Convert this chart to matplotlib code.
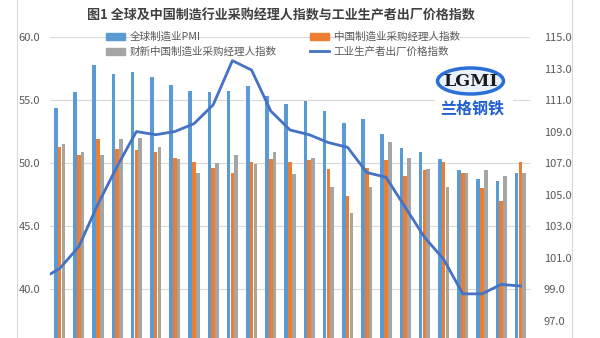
import matplotlib

matplotlib.use("Agg")
import matplotlib.pyplot as plt
import numpy as np
from matplotlib.lines import Line2D
from matplotlib.patches import Ellipse, Patch

plt.rcParams["font.family"] = ["Noto Sans CJK SC", "DejaVu Sans"]

# 2021-01 .. 2023-01, monthly
months = [f"{y}-{m:02d}" for y in (2021, 2022) for m in range(1, 13)] + ["2023-01"]

global_pmi = [54.4, 55.6, 57.8, 57.1, 57.2, 56.8, 56.2, 55.7, 55.6, 55.7, 56.1, 55.3,
              54.7, 54.9, 54.1, 53.2, 53.5, 52.3, 51.2, 50.9, 50.3, 49.4, 48.7, 48.6,
              49.2]
china_pmi = [51.3, 50.6, 51.9, 51.1, 51.0, 50.9, 50.4, 50.1, 49.6, 49.2, 50.1, 50.3,
             50.1, 50.2, 49.5, 47.4, 49.6, 50.2, 49.0, 49.4, 50.1, 49.2, 48.0, 47.0,
             50.1]
caixin_pmi = [51.5, 50.9, 50.6, 51.9, 52.0, 51.3, 50.3, 49.2, 50.0, 50.6, 49.9, 50.9,
              49.1, 50.4, 48.1, 46.0, 48.1, 51.7, 50.4, 49.5, 48.1, 49.2, 49.4, 49.0,
              49.2]
# PPI starts one month earlier (2020-12), its first segment is clipped at the left edge
ppi = [99.6, 100.3, 101.7, 104.4, 106.8, 109.0, 108.8, 109.0, 109.5, 110.7, 113.5,
       112.9, 110.3, 109.1, 108.8, 108.3, 108.0, 106.4, 106.1, 104.2, 102.3, 100.9,
       98.7, 98.7, 99.3, 99.2]

labels = ["全球制造业PMI", "中国制造业采购经理人指数",
          "财新中国制造业采购经理人指数", "工业生产者出厂价格指数"]
c_blue, c_orange, c_gray, c_line = "#5B9BD5", "#ED7D31", "#A5A5A5", "#4472C4"
txt_col = "#595959"

W, H = 600, 338
fig = plt.figure(figsize=(W / 100, H / 100), dpi=100)
ax = fig.add_axes([50 / W, 0, 480 / W, 1 - 37 / H])

x = np.arange(len(months))
bw = 0.19
ax.bar(x - 0.2, global_pmi, bw, color=c_blue, zorder=2)
ax.bar(x, china_pmi, bw, color=c_orange, zorder=2)
ax.bar(x + 0.2, caixin_pmi, bw, color=c_gray, zorder=2)

ax.set_xlim(-0.5, len(months) - 0.5)
ax.set_ylim(36.1, 60)
ax.set_yticks([40, 45, 50, 55, 60])
ax.set_yticklabels([f"{v:.1f}" for v in [40, 45, 50, 55, 60]])
ax.yaxis.grid(True, color="#d9d9d9", lw=0.8)
ax.set_axisbelow(True)
ax.tick_params(axis="y", length=0, pad=7, labelsize=8, labelcolor=txt_col)
ax.tick_params(axis="x", bottom=False, labelbottom=False)
for s in ax.spines.values():
    s.set_visible(False)

ax2 = ax.twinx()
ax2.plot(np.arange(-1, len(months)), ppi, color=c_line, lw=2, zorder=3)
ax2.set_ylim(95.9, 115)
rt = np.arange(97, 116, 2)
ax2.set_yticks(rt)
ax2.set_yticklabels([f"{v:.1f}" for v in rt])
ax2.tick_params(axis="y", length=0, pad=10, labelsize=8, labelcolor=txt_col)
for s in ax2.spines.values():
    s.set_visible(False)

fig.text(281 / W, 1 - 16 / H,
         "图1 全球及中国制造行业采购经理人指数与工业生产者出厂价格指数",
         ha="center", va="center", fontsize=9.4, fontweight="bold", color="#404040")

handles = [Patch(color=c_blue), Patch(color=c_gray),
           Patch(color=c_orange), Line2D([], [], color=c_line, lw=2)]
leg = fig.legend(handles, [labels[0], labels[2], labels[1], labels[3]],
                 ncol=2, frameon=False, loc="center",
                 bbox_to_anchor=(283 / W, 1 - 44.5 / H),
                 prop={"size": 7.6}, columnspacing=3.2, handlelength=1.8,
                 handletextpad=0.4, labelspacing=0.45, borderpad=0)
for t in leg.get_texts():
    t.set_color(txt_col)

# LGMI watermark
lax = fig.add_axes([435 / W, 1 - 118 / H, 78 / W, 53 / H])
lax.set_xlim(0, 78)
lax.set_ylim(0, 53)
lax.axis("off")
lax.add_patch(plt.Rectangle((0, 0), 78, 53, color="white", zorder=0))
lax.add_patch(Ellipse((35.5, 37), 66, 26, facecolor="#eaf2fc", edgecolor="#2a6fd6", lw=2.5))
lax.text(35.5, 37, "LGMI", ha="center", va="center", fontsize=12.5, fontweight="bold",
         family="DejaVu Serif", color="#1a1a1a")
lax.text(37, 10, "兰格钢铁", ha="center", va="center", fontsize=11.5, fontweight="bold",
         color="#1f5fd0", style="italic")

# light frame lines of the original picture
for xp in (17, 572):
    fig.add_artist(Line2D([xp / W, xp / W], [0, 1], color="#d9d9d9", lw=0.8))

fig.savefig("out.png", dpi=100)
